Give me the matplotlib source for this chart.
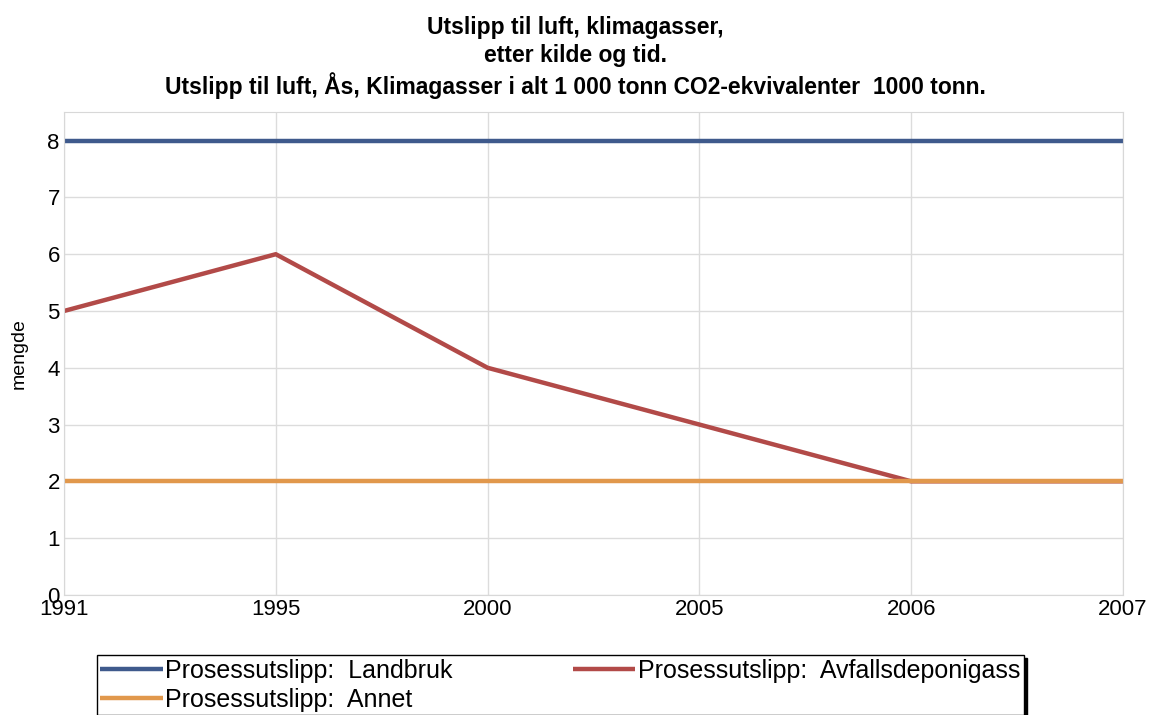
import matplotlib.pyplot as plt
import numpy as np

plt.rcParams['font.family'] = ['Liberation Sans', 'DejaVu Sans']

# Data
years = ['1991', '1995', '2000', '2005', '2006', '2007']
landbruk = [8, 8, 8, 8, 8, 8]
avfall = [5, 6, 4, 3, 2, 2]
annet = [2, 2, 2, 2, 2, 2]
y_ticks = [0, 1, 2, 3, 4, 5, 6, 7, 8]

title = ('Utslipp til luft, klimagasser,\n'
         'etter kilde og tid.\n'
         'Utslipp til luft, Ås, Klimagasser i alt 1 000 tonn CO2-ekvivalenter  1000 tonn.')

fig = plt.figure(figsize=(11.51, 7.15), dpi=100)
ax = fig.add_axes([0.0556, 0.168, 0.92, 0.675])

x = np.arange(len(years))
l1, = ax.plot(x, landbruk, color='#3f5a8c', lw=3.2, solid_capstyle='butt', label='Prosessutslipp:  Landbruk')
l2, = ax.plot(x, avfall, color='#b24a48', lw=3.2, solid_capstyle='butt', label='Prosessutslipp:  Avfallsdeponigass')
l3, = ax.plot(x, annet, color='#e1984c', lw=3.2, solid_capstyle='butt', label='Prosessutslipp:  Annet')

ax.set_xlim(0, len(years) - 1)
ax.set_ylim(0, 8.5)
ax.set_xticks(x)
ax.set_xticklabels(years, fontsize=16)
ax.set_yticks(y_ticks)
ax.set_yticklabels([str(v) for v in y_ticks], fontsize=16)
ax.tick_params(length=0, pad=3)
ax.grid(True, color='#dcdcdc', lw=1)
ax.set_axisbelow(True)
for s in ax.spines.values():
    s.set_color('#d8d8d8')
ax.set_ylabel('mengde', fontsize=14, labelpad=14)

fig.suptitle(title, fontsize=16.5, fontweight='bold', y=0.977, linespacing=1.25)

# column-wise fill: order handles so rows read Landbruk, Avfall / Annet
fig.legend([l1, l3, l2], [l1.get_label(), l3.get_label(), l2.get_label()],
           loc='upper left', bbox_to_anchor=(0.084, 0.084), ncol=2, fontsize=18,
           frameon=True, fancybox=False, edgecolor='black', shadow={'color': 'black', 'alpha': 1},
           handlelength=2.5, handletextpad=0.1, columnspacing=4.8, borderpad=0.15,
           labelspacing=0.2, borderaxespad=0)

fig.savefig('out.png', dpi=100)
